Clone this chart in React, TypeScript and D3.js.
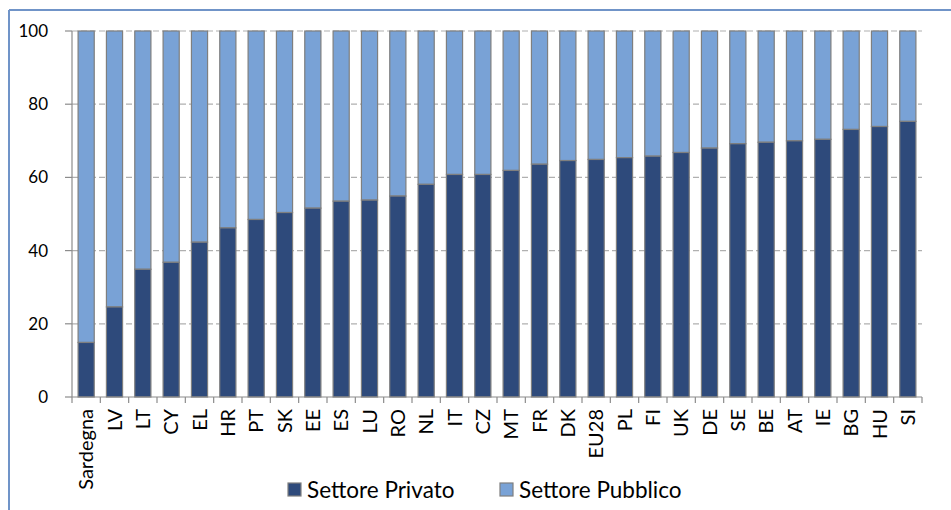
import React from "react";
import * as d3 from "d3";

const categories = ["Sardegna","LV","LT","CY","EL","HR","PT","SK","EE","ES","LU","RO","NL","IT","CZ","MT","FR","DK","EU28","PL","FI","UK","DE","SE","BE","AT","IE","BG","HU","SI"];
const privato = [14.9,24.6,34.9,36.8,42.3,46.2,48.5,50.4,51.6,53.5,53.8,54.9,58.1,60.8,60.8,61.9,63.6,64.6,64.9,65.4,65.8,66.8,68.0,69.2,69.6,70.0,70.4,73.1,73.9,75.3];
const pubblico = privato.map((v) => 100 - v);
const yTicks = [0, 20, 40, 60, 80, 100];
const seriesNames = ["Settore Privato", "Settore Pubblico"];
const colors = ["#2e4a7b", "#79a2d6"];

const W = 951, H = 510;
const M = { left: 72, right: 29, top: 31, bottom: 113 };
const FONT = "Lato, 'Open Sans', sans-serif";

export default function App() {
  const x = d3.scaleBand<string>().domain(categories).range([M.left, W - M.right]).paddingInner(0.43).paddingOuter(0.215);
  const y = d3.scaleLinear().domain([0, 100]).range([H - M.bottom, M.top]);
  const step = x.step();
  const stacked = categories.map((c, i) => ({ c, a: privato[i], b: pubblico[i] }));
  return (
    <svg width={W} height={H} style={{ position: "absolute", left: 0, top: 0, background: "#fff" }}>
      <rect x={0} y={0} width={W} height={H} fill="#fff" />
      <line x1={9} x2={W} y1={10} y2={10} stroke="#7094c8" strokeWidth={2} />
      <line x1={9} x2={9} y1={10} y2={H} stroke="#7094c8" strokeWidth={2} />
      {yTicks.filter((t) => t > 0).map((t) => (
        <line key={"g" + t} x1={M.left} x2={W - M.right} y1={y(t)} y2={y(t)} stroke="#b0b0b0" strokeWidth={1.2} strokeDasharray="6,3" />
      ))}
      {stacked.map((d) => (
        <g key={d.c}>
          <rect x={x(d.c)} y={y(100)} width={x.bandwidth()} height={y(d.a) - y(100)} fill={colors[1]} stroke="#7f7f7f" strokeWidth={1.2} />
          <rect x={x(d.c)} y={y(d.a)} width={x.bandwidth()} height={y(0) - y(d.a)} fill={colors[0]} stroke="#7f7f7f" strokeWidth={1.2} />
        </g>
      ))}
      <line x1={M.left} x2={M.left} y1={y(100)} y2={y(0)} stroke="#8c8c8c" strokeWidth={1.2} />
      <line x1={M.left} x2={W - M.right} y1={y(0)} y2={y(0)} stroke="#8c8c8c" strokeWidth={1.2} />
      {yTicks.map((t) => (
        <g key={"y" + t}>
          <line x1={M.left - 7} x2={M.left} y1={y(t)} y2={y(t)} stroke="#8c8c8c" strokeWidth={1.2} />
          <text x={M.left - 24} y={y(t)} dy="0.35em" textAnchor="end" fontFamily={FONT} fontSize={17} fill="#000">{t}</text>
        </g>
      ))}
      {d3.range(categories.length + 1).map((i) => (
        <line key={"xt" + i} x1={M.left + i * step} x2={M.left + i * step} y1={y(0)} y2={y(0) + 6} stroke="#8c8c8c" strokeWidth={1.2} />
      ))}
      {categories.map((c) => {
        const cx = (x(c) as number) + x.bandwidth() / 2;
        return (
          <text key={"xl" + c} transform={`translate(${cx},${y(0) + 12}) rotate(-90)`} textAnchor="end" dy="0.35em" fontFamily={FONT} fontSize={20} fill="#000">{c}</text>
        );
      })}
      {seriesNames.map((s, i) => {
        const lx = [288, 500][i];
        return (
          <g key={s}>
            <rect x={lx} y={483} width={13} height={13} fill={colors[i]} stroke="#7f7f7f" strokeWidth={1.2} />
            <text x={lx + 19} y={490} dy="0.35em" fontFamily={FONT} fontSize={22.5} fill="#000">{s}</text>
          </g>
        );
      })}
    </svg>
  );
}
